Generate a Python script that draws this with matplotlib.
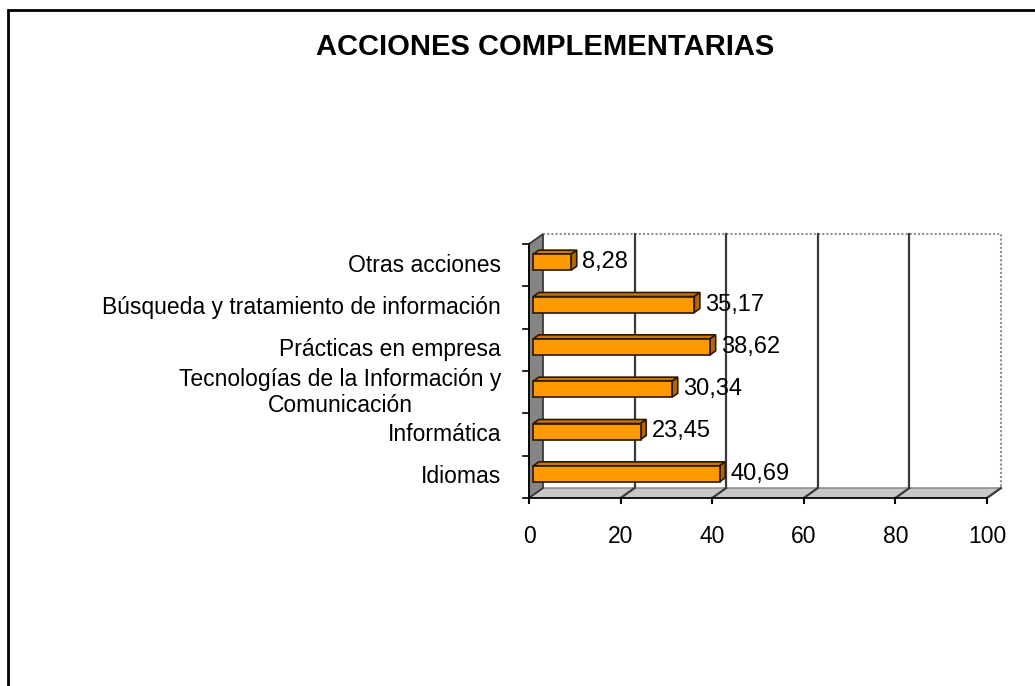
import matplotlib
matplotlib.use("Agg")
import matplotlib.pyplot as plt
from matplotlib.patches import Polygon, Rectangle

categories = ["Idiomas", "Informática", "Tecnologías de la Información y\nComunicación",
              "Prácticas en empresa", "Búsqueda y tratamiento de información", "Otras acciones"]
values = [40.69, 23.45, 30.34, 38.62, 35.17, 8.28]
value_labels = ["40,69", "23,45", "30,34", "38,62", "35,17", "8,28"]
xticks = [0, 20, 40, 60, 80, 100]
title = "ACCIONES COMPLEMENTARIAS"

W, H = 1035, 686
fig = plt.figure(figsize=(W / 100, H / 100), dpi=100)
plt.rcParams['font.family'] = ['Liberation Sans', 'DejaVu Sans']

# frame around the chart
fig.patches.append(Rectangle((8 / W, -0.05), 1.2, 1 - 10 / H + 0.05, transform=fig.transFigure,
                             fill=False, lw=2, ec='black'))
fig.text(545 / W, 1 - 47 / H, title, fontsize=21, fontweight='bold', ha='center', va='center')

ax = fig.add_axes([529 / W, (H - 498) / H, 458 / W, 254 / H])
xmax = xticks[-1]
ax.set_xlim(0, xmax)
ax.set_ylim(-0.5, len(categories) - 0.5)
ax.axis('off')

px_x = 458 / xmax     # pixels per value unit
px_y = 254 / len(categories)
DX, DY = 14 / px_x, 10 / px_y          # full depth
y0, y1 = -0.5, len(categories) - 0.5

# back wall
ax.add_patch(Polygon([(DX, y0 + DY), (xmax + DX, y0 + DY), (xmax + DX, y1 + DY), (DX, y1 + DY)],
                     closed=True, fc='white', ec='none', clip_on=False, zorder=1))
ax.plot([DX, xmax + DX, xmax + DX], [y1 + DY, y1 + DY, y0 + DY], color='#909090', lw=1.5,
        ls=(0, (1, 1)), clip_on=False, zorder=2)
# back gridlines
for t in xticks[1:-1]:
    ax.plot([t + DX, t + DX], [y0 + DY, y1 + DY], color='#3a3a3a', lw=1.6, clip_on=False, zorder=2)
# floor
ax.add_patch(Polygon([(0, y0), (xmax, y0), (xmax + DX, y0 + DY), (DX, y0 + DY)], closed=True,
                     fc='#c8c8c8', ec='#808080', lw=1, clip_on=False, zorder=3))
for t in xticks[1:]:
    ax.plot([t, t + DX], [y0, y0 + DY], color='#3a3a3a', lw=1.6, clip_on=False, zorder=3)
# left wall
ax.add_patch(Polygon([(0, y0), (DX, y0 + DY), (DX, y1 + DY), (0, y1)], closed=True,
                     fc='#858585', ec='#303030', lw=1.2, clip_on=False, zorder=4))

# bars
bx0, by0 = 0.3 * DX, 0.3 * DY
bdx, bdy = 0.4 * DX, 0.4 * DY
bh = 16 / px_y
for i, v in enumerate(values):
    xl, xr = bx0, bx0 + v
    yb, yt = i + by0 - bh / 2, i + by0 + bh / 2
    ax.add_patch(Polygon([(xl, yt), (xr, yt), (xr + bdx, yt + bdy), (xl + bdx, yt + bdy)], closed=True,
                         fc='#c87800', ec='#2a1800', lw=1.2, clip_on=False, zorder=5))
    ax.add_patch(Polygon([(xr, yb), (xr + bdx, yb + bdy), (xr + bdx, yt + bdy), (xr, yt)], closed=True,
                         fc='#b06800', ec='#2a1800', lw=1.2, clip_on=False, zorder=5))
    ax.add_patch(Polygon([(xl, yb), (xr, yb), (xr, yt), (xl, yt)], closed=True,
                         fc='#ff9900', ec='#2a1800', lw=1.2, clip_on=False, zorder=6))
    ax.annotate(value_labels[i], xy=(xr + bdx, i + by0), xytext=(4, 0), textcoords='offset points',
                ha='left', va='center', fontsize=17, zorder=7, annotation_clip=False)

# front axis line & ticks
ax.plot([0, xmax], [y0, y0], color='black', lw=1.2, clip_on=False, zorder=6)
ax.plot([0, 0], [y0, y1], color='black', lw=1.2, clip_on=False, zorder=6)
tl_y = 5 / px_y
tl_x = 6 / px_x
for t in xticks:
    ax.plot([t, t], [y0, y0 - tl_y], color='black', lw=1.5, clip_on=False, zorder=6)
    ax.annotate(str(t), xy=(t, y0), xytext=(0, -28), textcoords='offset points',
                ha='center', va='center', fontsize=16.5, annotation_clip=False)
for k in range(len(categories) + 1):
    yb = k - 0.5
    ax.plot([-tl_x, 0], [yb, yb], color='black', lw=1.2, clip_on=False, zorder=6)
for i, c in enumerate(categories):
    ax.annotate(c, xy=(0, i), xytext=(-20, 0), textcoords='offset points', ha='right', va='center',
                multialignment='center', fontsize=16.5, linespacing=1.15, annotation_clip=False)

fig.savefig("out.png", dpi=100)
